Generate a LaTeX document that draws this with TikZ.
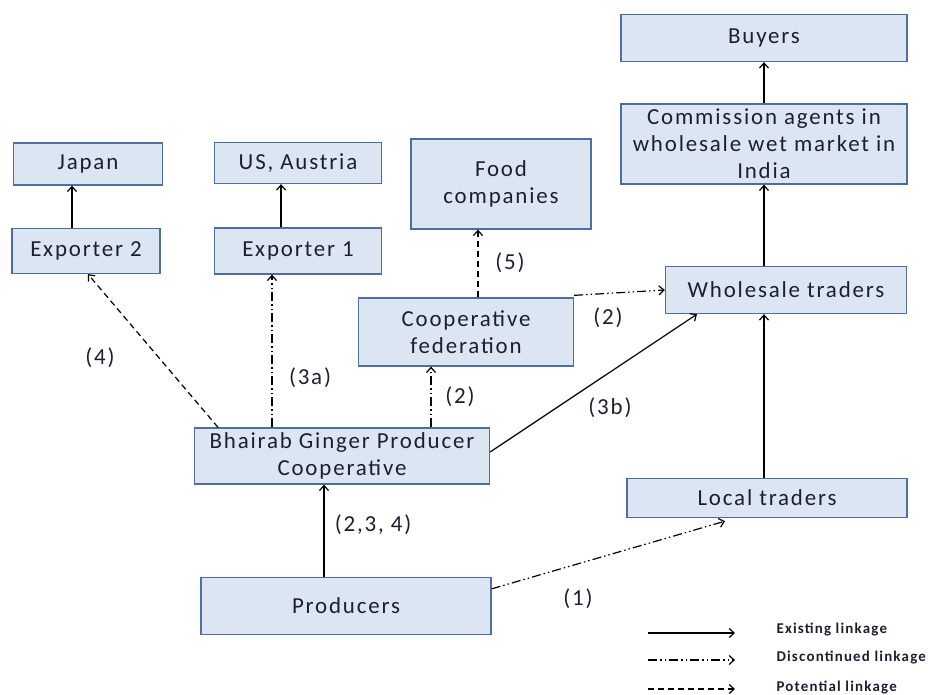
\documentclass[tikz,border=0pt]{standalone}
\usepackage{fontspec}
\setmainfont[LetterSpace=8]{Carlito}
\usetikzlibrary{arrows.meta,shapes}
\definecolor{boxfill}{RGB}{220,230,242}
\definecolor{boxline}{RGB}{79,110,160}
\definecolor{txt}{RGB}{30,30,50}
\tikzset{
  box/.style={draw=boxline,fill=boxfill,line width=1.3bp,align=center,inner sep=0pt,text=txt,font=\fontsize{23}{27}\selectfont},
  lbl/.style={text=txt,font=\fontsize{23}{27}\selectfont},
  legtext/.style={anchor=west,text=txt,font=\fontsize{15}{17}\selectfont\bfseries},
  existing/.style={->,line width=1.2bp},
  discont/.style={->,line width=1.2bp,dash pattern=on 9bp off 3bp on 1.5bp off 3bp on 1.5bp off 3bp},
  potential/.style={->,line width=1.2bp,dash pattern=on 6bp off 4bp},
  >={Straight Barb[length=5bp,width=9bp]}
}
\begin{document}
\begin{tikzpicture}
\useasboundingbox (0bp,0bp) rectangle (933bp,-695bp);

\node (Buyers) at (764bp,-38bp)[box,minimum width=286bp,minimum height=47bp] {Buyers};
\node (Commission) at (764bp,-144bp)[box,minimum width=286bp,minimum height=80bp] {Commission agents in\\ wholesale wet market in\\ India};
\node (Japan) at (88bp,-164bp)[box,minimum width=149bp,minimum height=42bp] {Japan};
\node (USAustria) at (298bp,-163bp)[box,minimum width=167bp,minimum height=41bp] {US, Austria};
\node (Food) at (501bp,-184bp)[box,minimum width=180bp,minimum height=90bp] {Food\\ companies};
\node (Exptwo) at (86bp,-251bp)[box,minimum width=148bp,minimum height=45bp] {Exporter 2};
\node (Expone) at (298bp,-251bp)[box,minimum width=167bp,minimum height=46bp] {Exporter 1};
\node (Wholesale) at (786bp,-290bp)[box,minimum width=241bp,minimum height=47bp] {Wholesale traders};
\node (Federation) at (466bp,-332bp)[box,minimum width=215bp,minimum height=68bp] {Cooperative\\ federation};
\node (Bhairab) at (342bp,-456bp)[box,minimum width=295bp,minimum height=56bp] {Bhairab Ginger Producer\\ Cooperative};
\node (Local) at (767bp,-498bp)[box,minimum width=280bp,minimum height=39bp] {Local traders};
\node (Producers) at (346bp,-606bp)[box,minimum width=290bp,minimum height=57bp] {Producers};

\draw [existing] ([xshift=-14bp]Exptwo.north) to ([xshift=-14bp]Exptwo.north |- Japan.south);
\draw [existing] ([xshift=-17bp]Expone.north) to ([xshift=-17bp]Expone.north |- USAustria.south);
\draw [existing] (Commission.north) to (Buyers.south);
\draw [existing] (Wholesale.north -| Commission.south) to (Commission.south);
\draw [existing] (Local.north -| Commission.south) to (Wholesale.south -| Commission.south);
\draw [existing] ([xshift=-22bp]Producers.north) to ([xshift=-22bp]Producers.north |- Bhairab.south);
\draw [existing] ([yshift=4bp]Bhairab.east) to ([xshift=-89bp]Wholesale.south);
\draw [potential] ([xshift=-124bp]Bhairab.north) to ([xshift=2bp]Exptwo.south);
\draw [discont] ([xshift=-70bp]Bhairab.north) to ([xshift=-70bp]Bhairab.north |- Expone.south);
\draw [discont] ([xshift=89bp]Bhairab.north) to ([xshift=89bp]Bhairab.north |- Federation.south);
\draw [potential] ([xshift=12bp]Federation.north) to ([xshift=12bp]Federation.north |- Food.south);
\draw [discont] ([yshift=2bp]Federation.north east) to (Wholesale.west);
\draw [discont] ([yshift=-12bp]Producers.north east) to ([xshift=-42bp,yshift=-3bp]Local.south);

\node (Lfour) at (100bp,-358bp)[lbl] {(4)};
\node (Lthreea) at (310bp,-378bp)[lbl] {(3a)};
\node (Ltwoa) at (460bp,-397bp)[lbl] {(2)};
\node (Lfive) at (510bp,-263bp)[lbl] {(5)};
\node (Ltwob) at (608bp,-318bp)[lbl] {(2)};
\node (Lthreeb) at (610bp,-408bp)[lbl] {(3b)};
\node (Lall) at (373bp,-525bp)[lbl] {(2,3, 4)};
\node (Lone) at (578bp,-599bp)[lbl] {(1)};

% legend
\coordinate (Ea) at (648bp,-633bp);
\coordinate (Eb) at (735bp,-633bp);
\coordinate (Da) at (648bp,-660bp);
\coordinate (Db) at (735bp,-660bp);
\coordinate (Pa) at (648bp,-689bp);
\coordinate (Pb) at (735bp,-689bp);
\draw [existing] (Ea) to (Eb);
\draw [discont] (Da) to (Db);
\draw [potential] (Pa) to (Pb);
\node (Eleg) at (773bp,-630bp)[legtext] {Existing linkage};
\node (Dleg) at (773bp,-658bp)[legtext] {Discontinued linkage};
\node (Pleg) at (773bp,-688bp)[legtext] {Potential linkage};
\end{tikzpicture}
\end{document}
